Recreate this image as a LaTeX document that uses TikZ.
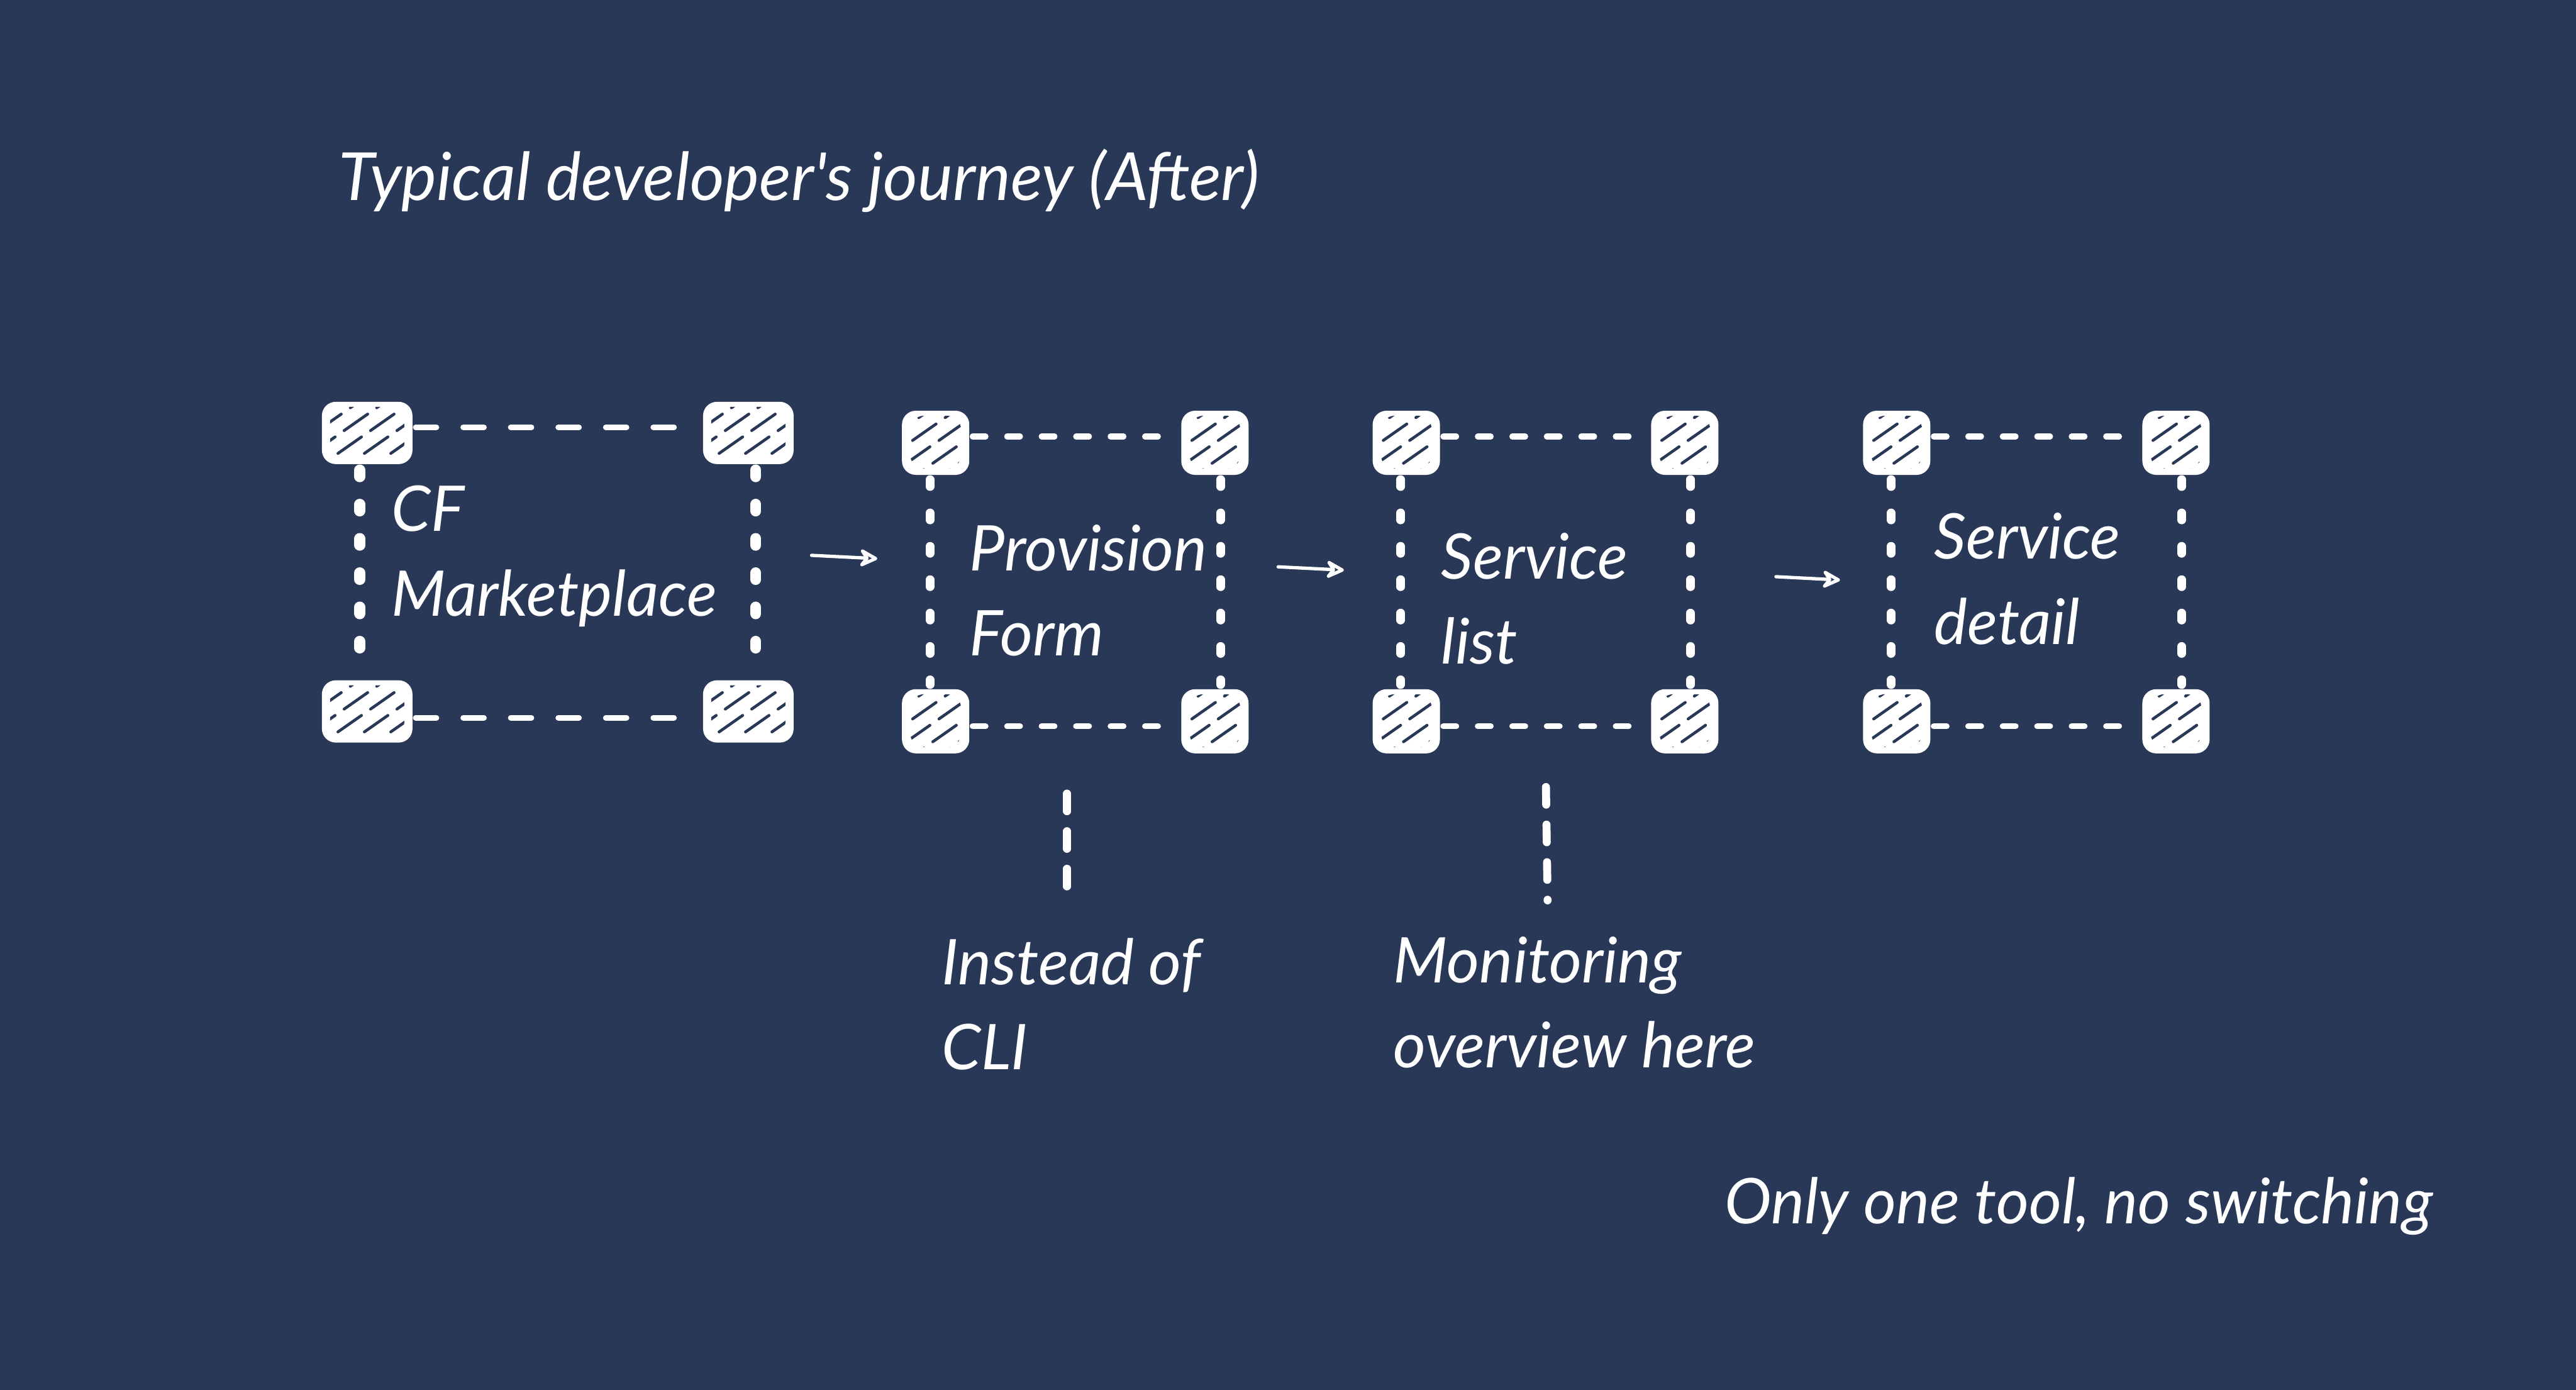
\documentclass[tikz,border=0pt]{standalone}
\usepackage{fontspec}
\usetikzlibrary{arrows.meta}
\newfontfamily\hand{Lato}
\definecolor{bgc}{HTML}{2A3858}
\begin{document}
\begin{tikzpicture}[x=0.02612cm,y=-0.02612cm,
  hatched/.style={fill=white, draw=none, rounded corners=0.22cm, inner sep=0pt,
    path picture={
      \begin{scope}
        \clip ([shift={(0.13cm,0.1cm)}]path picture bounding box.south west) rectangle ([shift={(-0.13cm,-0.08cm)}]path picture bounding box.north east);
        \foreach \k in {-3,...,3}{
          \draw[bgc, line width=1.3pt, line cap=round, dash pattern=on 13pt off 5pt]
            ([xshift=\k*0.42cm]path picture bounding box.center) ++(215:1.2cm) -- ++(35:2.4cm);
        }
      \end{scope}}},
  bigsq/.style={hatched, minimum width=1.44cm, minimum height=0.99cm},
  smallsq/.style={hatched, minimum width=1.07cm, minimum height=1.02cm},
  hdashA/.style={white, line width=2.6pt, line cap=round, dash pattern=on 9.3pt off 12.2pt, shorten <=1.3pt, shorten >=1.3pt},
  vdashA/.style={white, line width=5pt, line cap=round, dash pattern=on 3pt off 12.5pt, shorten <=2.5pt, shorten >=2.5pt},
  hdash/.style={white, line width=2.6pt, line cap=round, dash pattern=on 5.9pt off 9.7pt, shorten <=1.3pt, shorten >=1.3pt},
  vdash/.style={white, line width=3.9pt, line cap=round, dash pattern=on 3.2pt off 11.9pt, shorten <=1.9pt, shorten >=1.9pt},
  calldash/.style={white, line width=3.6pt, line cap=round, dash pattern=on 8pt off 9pt},
  flow/.style={white, line width=1.5pt, line cap=round, -{Stealth[open, round, length=10pt, width=10pt, inset=3.5pt]}},
  label/.style={text=white, font=\hand\itshape\fontsize{28.5}{38.5}\selectfont, inner sep=0pt, anchor=base west, align=left}
]
\fill[bgc] (0,0) rectangle (1568,846);
\useasboundingbox (0,0) rectangle (1568,846);

% title
\node[label, font=\hand\itshape\fontsize{30}{38.5}\selectfont] (title) at (206,121.8) {Typical developer's journey (After)};

% box 1
\node[bigsq] (b1tl) at (223.5,263.5) {};
\node[bigsq] (b1tr) at (455.5,263.5) {};
\node[bigsq] (b1bl) at (223.5,433) {};
\node[bigsq] (b1br) at (455.5,433) {};
\draw[hdashA] ([yshift=0.09cm]b1tl.east) -- ([yshift=0.09cm]b1tr.west);
\draw[hdashA] ([yshift=-0.1cm]b1bl.east) -- ([yshift=-0.1cm]b1br.west);
\draw[vdashA] ([xshift=-0.118cm]b1tl.south) -- ([xshift=-0.118cm]b1bl.north);
\draw[vdashA] ([xshift=0.118cm]b1tr.south) -- ([xshift=0.118cm]b1br.north);
\node[label] (l1) at (238,375) {CF\\Marketplace};

% box 2
\node[smallsq] (b2tl) at (569.5,269.5) {};
\node[smallsq] (b2tr) at (739.5,269.5) {};
\node[smallsq] (b2bl) at (569.5,439) {};
\node[smallsq] (b2br) at (739.5,439) {};
\draw[hdash] ([yshift=0.1cm]b2tl.east) -- ([yshift=0.1cm]b2tr.west);
\draw[hdash] ([yshift=-0.08cm]b2bl.east) -- ([yshift=-0.08cm]b2br.west);
\draw[vdash] ([xshift=-0.09cm]b2tl.south) -- ([xshift=-0.09cm]b2bl.north);
\draw[vdash] ([xshift=0.09cm]b2tr.south) -- ([xshift=0.09cm]b2br.north);
\node[label] (l2) at (590,399) {Provision\\Form};

% box 3
\node[smallsq] (b3tl) at (856,269.5) {};
\node[smallsq] (b3tr) at (1025.5,269.5) {};
\node[smallsq] (b3bl) at (856,439) {};
\node[smallsq] (b3br) at (1025.5,439) {};
\draw[hdash] ([yshift=0.1cm]b3tl.east) -- ([yshift=0.1cm]b3tr.west);
\draw[hdash] ([yshift=-0.08cm]b3bl.east) -- ([yshift=-0.08cm]b3br.west);
\draw[vdash] ([xshift=-0.09cm]b3tl.south) -- ([xshift=-0.09cm]b3bl.north);
\draw[vdash] ([xshift=0.09cm]b3tr.south) -- ([xshift=0.09cm]b3br.north);
\node[label] (l3) at (877,404) {Service\\list};

% box 4
\node[smallsq] (b4tl) at (1154.5,269.5) {};
\node[smallsq] (b4tr) at (1324.5,269.5) {};
\node[smallsq] (b4bl) at (1154.5,439) {};
\node[smallsq] (b4br) at (1324.5,439) {};
\draw[hdash] ([yshift=0.1cm]b4tl.east) -- ([yshift=0.1cm]b4tr.west);
\draw[hdash] ([yshift=-0.08cm]b4bl.east) -- ([yshift=-0.08cm]b4br.west);
\draw[vdash] ([xshift=-0.09cm]b4tl.south) -- ([xshift=-0.09cm]b4bl.north);
\draw[vdash] ([xshift=0.09cm]b4tr.south) -- ([xshift=0.09cm]b4br.north);
\node[label] (l4) at (1177,392) {Service\\detail};

% arrows
\coordinate (a1s) at (494,338);
\coordinate (a1e) at (534,340);
\coordinate (a2s) at (778,345);
\coordinate (a2e) at (818,347);
\coordinate (a3s) at (1081,351);
\coordinate (a3e) at (1120,353);
\draw[flow] (a1s) -- (a1e);
\draw[flow] (a2s) -- (a2e);
\draw[flow] (a3s) -- (a3e);

% callouts
\coordinate (c1a) at (649.5,483);
\coordinate (c1b) at (649.5,541);
\coordinate (c2a) at (941,479);
\coordinate (c2b) at (942,548);
\draw[calldash] (c1a) -- (c1b);
\draw[calldash] (c2a) -- (c2b);
\node[label] (n1) at (573,651) {Instead of\\CLI};
\node[label] (n2) at (848,650) {Monitoring\\overview here};

\node[label] (foot) at (1049.5,744.6) {Only one tool, no switching};
\end{tikzpicture}
\end{document}
